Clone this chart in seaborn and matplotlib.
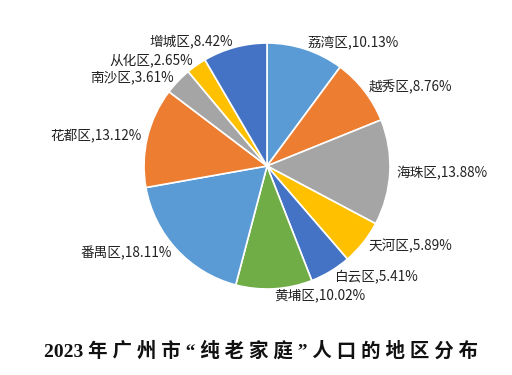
import matplotlib
matplotlib.use("Agg")
import matplotlib.pyplot as plt
import seaborn as sns

# District shares of "pure elderly households", Guangzhou 2023 (%)
districts = ["荔湾区", "越秀区", "海珠区", "天河区", "白云区", "黄埔区",
             "番禺区", "花都区", "南沙区", "从化区", "增城区"]
shares = [10.13, 8.76, 13.88, 5.89, 5.41, 10.02, 18.11, 13.12, 3.61, 2.65, 8.42]
title_year = "2023"
title_rest = "年广州市“纯老家庭”人口的地区分布"

sns.set_theme(style="white")
plt.rcParams["font.family"] = ["Noto Sans CJK SC", "DejaVu Sans"]

# Office-style palette, repeated around the pie
palette = sns.color_palette(["#5B9BD5", "#ED7D31", "#A5A5A5", "#FFC000", "#4472C4", "#70AD47"])
colors = [palette[i % len(palette)] for i in range(len(shares))]

labels = [f"{d},{s:.2f}%" for d, s in zip(districts, shares)]

fig = plt.figure(figsize=(5.12, 3.75), dpi=100)
# radius ~123 px, centre around (267, 166)
w = 246 * 1.25 / 512
h = 246 * 1.25 / 375
ax = fig.add_axes([267 / 512 - w / 2, (375 - 166) / 375 - h / 2, w, h])

wedges, texts = ax.pie(shares, labels=labels, colors=colors, startangle=90,
                       counterclock=False, labeldistance=1.05,
                       wedgeprops=dict(edgecolor="white", linewidth=1.2),
                       textprops=dict(fontsize=9.8, color="#222222"))
ax.set_aspect("equal")

# letter-spaced title like the original caption
title = title_year + " " + " ".join(title_rest)
fig.text(0.51, (375 - 351) / 375, title, ha="center", va="center",
         fontsize=14, fontweight="bold", color="#111111",
         family=["Liberation Serif", "Noto Sans CJK SC"])

fig.savefig("out.png", dpi=100, facecolor="white")
